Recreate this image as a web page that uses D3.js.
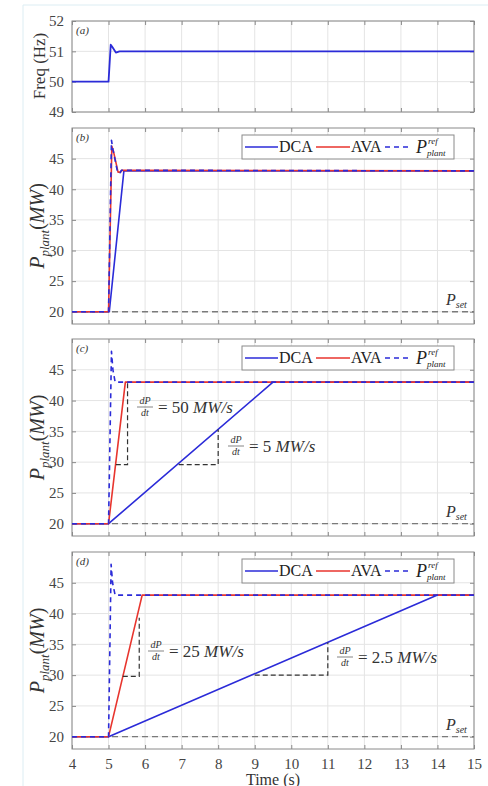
<!DOCTYPE html>
<html>
<head>
<meta charset="utf-8">
<script src="https://cdn.jsdelivr.net/npm/d3@7"></script>
<style>
  body { margin: 0; background: #fff; }
  svg text { font-family: "Liberation Serif", "DejaVu Serif", serif; }
</style>
</head>
<body>
<div id="chart"></div>
<script>
// time ticks
var timeTicks = [4, 5, 6, 7, 8, 9, 10, 11, 12, 13, 14, 15];

// (a) frequency
var freqT = [4, 5.0, 5.06, 5.1, 5.2, 5.3, 15];
var freqV = [50, 50, 51.22, 51.15, 50.96, 51, 51];
var freqTicks = [49, 50, 51, 52];

// (b)
var bRefT = [4, 5, 5.08, 5.12, 5.25, 5.32, 5.35, 15];
var bRefP = [20, 20, 48, 46.5, 42.7, 42.7, 43.1, 43];
var bAvaT = [4, 5, 5.09, 5.13, 5.26, 5.33, 5.36, 15];
var bAvaP = [20, 20, 47, 46.3, 42.8, 42.8, 43.1, 43];
var bDcaT = [4, 5.02, 5.42, 15];
var bDcaP = [20, 20, 43, 43];

// (c)
var cRefT = [4, 5, 5.08, 5.12, 5.18, 15];
var cRefP = [20, 20, 48, 45, 43, 43];
var cAvaT = [4, 5, 5.46, 15];
var cAvaP = [20, 20, 43, 43];
var cDcaT = [4, 5, 9.5, 15];
var cDcaP = [20, 20, 43, 43];
// slope triangles: [t1, t2, p1, p2]
var cTri = [[5.2, 5.52, 29.6, 43], [6.92, 8, 29.6, 35.3]];
var cRates = ["50", "5"];

// (d)
var dRefT = [4, 5, 5.07, 5.11, 5.18, 15];
var dRefP = [20, 20, 48, 45, 43, 43];
var dAvaT = [4, 5, 5.92, 15];
var dAvaP = [20, 20, 43, 43];
var dDcaT = [4, 5, 14, 15];
var dDcaP = [20, 20, 43, 43];
var dTri = [[5.39, 5.84, 29.8, 39.3], [9, 11, 30, 35.3]];
var dRates = ["25", "2.5"];

var pTicks = [20, 25, 30, 35, 40, 45];
var pSet = 20;

var blue = "#2b2bd8", red = "#e8352e", boxCol = "#8a8a8a", gridCol = "#e4e4e4", tickCol = "#444";
var serif = "'Liberation Serif', 'DejaVu Serif', serif";

var W = 488, H = 786;
var svg = d3.select("#chart").append("svg").attr("width", W).attr("height", H);

// faint outer frame
svg.append("line").attr("x1", 23).attr("x2", 23).attr("y1", 5).attr("y2", H).attr("stroke", "#dcedf3");
svg.append("line").attr("x1", 23).attr("x2", W).attr("y1", 5).attr("y2", 5).attr("stroke", "#dcedf3");

var x = d3.scaleLinear().domain([4, 15]).range([72, 474]);

function zip(ts, vs) { return ts.map(function(t, i) { return [t, vs[i]]; }); }

function panel(top, bottom, domain, yticks, letter, showXLabels) {
  var y = d3.scaleLinear().domain(domain).range([bottom, top]);
  var g = svg.append("g");
  // grid
  g.selectAll(".gx").data(timeTicks).enter().append("line")
    .attr("x1", function(d) { return x(d); }).attr("x2", function(d) { return x(d); })
    .attr("y1", top).attr("y2", bottom).attr("stroke", gridCol);
  g.selectAll(".gy").data(yticks).enter().append("line")
    .attr("x1", 72).attr("x2", 474)
    .attr("y1", function(d) { return y(d); }).attr("y2", function(d) { return y(d); })
    .attr("stroke", gridCol);
  // axes with inward ticks
  var fmt = function(d) { return d; };
  g.append("g").attr("transform", "translate(0," + bottom + ")")
    .call(d3.axisBottom(x).tickValues(timeTicks).tickSizeInner(-4).tickSizeOuter(0).tickPadding(9).tickFormat(showXLabels ? fmt : ""));
  g.append("g").attr("transform", "translate(0," + top + ")")
    .call(d3.axisTop(x).tickValues(timeTicks).tickSizeInner(-4).tickSizeOuter(0).tickFormat(""));
  g.append("g").attr("transform", "translate(72,0)")
    .call(d3.axisLeft(y).tickValues(yticks).tickSizeInner(-4).tickSizeOuter(0).tickPadding(8).tickFormat(fmt));
  g.append("g").attr("transform", "translate(474,0)")
    .call(d3.axisRight(y).tickValues(yticks).tickSizeInner(-4).tickSizeOuter(0).tickFormat(""));
  g.selectAll(".domain").remove();
  g.selectAll(".tick line").attr("stroke", boxCol);
  g.selectAll(".tick text").attr("fill", tickCol).style("font-size", "15px").style("font-family", serif);
  g.append("rect").attr("x", 72).attr("y", top).attr("width", 402).attr("height", bottom - top)
    .attr("fill", "none").attr("stroke", boxCol);
  g.append("text").attr("x", 76).attr("y", top + 13).attr("font-style", "italic")
    .style("font-size", "11px").attr("fill", "#333").text("(" + letter + ")");
  return { g: g, y: y, top: top, bottom: bottom };
}

function drawLine(p, ts, vs, color, dash, width) {
  var line = d3.line().x(function(d) { return x(d[0]); }).y(function(d) { return p.y(d[1]); });
  p.g.append("path").datum(zip(ts, vs)).attr("d", line)
    .attr("fill", "none").attr("stroke", color).attr("stroke-width", width || 1.6)
    .attr("stroke-dasharray", dash || null).attr("stroke-linejoin", "round");
}

function pLabel(p) {
  var cy = (p.top + p.bottom) / 2;
  var t = p.g.append("text").attr("transform", "translate(44," + cy + ") rotate(-90)")
    .attr("text-anchor", "middle").attr("fill", "#333").style("font-size", "20px");
  t.append("tspan").attr("font-style", "italic").text("P");
  t.append("tspan").attr("font-style", "italic").attr("dy", 5).style("font-size", "13px").text("plant");
  t.append("tspan").attr("dy", -5).text("(");
  t.append("tspan").attr("font-style", "italic").text("MW");
  t.append("tspan").text(")");
}

function pSetLine(p) {
  p.g.append("line").attr("x1", x(4)).attr("x2", x(15))
    .attr("y1", p.y(pSet)).attr("y2", p.y(pSet))
    .attr("stroke", "#7a7a7a").attr("stroke-width", 1.3).attr("stroke-dasharray", "6,4");
  var t = p.g.append("text").attr("x", 446).attr("y", p.y(pSet) - 7)
    .attr("fill", "#333").style("font-size", "16px").attr("font-style", "italic");
  t.append("tspan").text("P");
  t.append("tspan").attr("dy", 3).style("font-size", "10px").text("set");
}

function legend(p) {
  var lx = 242, ly = p.top + 7, lw = 212, lh = 24;
  var g = p.g.append("g");
  g.append("rect").attr("x", lx).attr("y", ly).attr("width", lw).attr("height", lh)
    .attr("fill", "#fff").attr("stroke", "#8a8a8a");
  var cy = ly + lh / 2;
  g.append("line").attr("x1", lx + 3).attr("x2", lx + 36).attr("y1", cy).attr("y2", cy).attr("stroke", blue).attr("stroke-width", 1.6);
  g.append("text").attr("x", lx + 37).attr("y", cy + 5).style("font-size", "16px").attr("fill", "#222").text("DCA");
  g.append("line").attr("x1", lx + 74).attr("x2", lx + 108).attr("y1", cy).attr("y2", cy).attr("stroke", red).attr("stroke-width", 1.6);
  g.append("text").attr("x", lx + 109).attr("y", cy + 5).style("font-size", "16px").attr("fill", "#222").text("AVA");
  g.append("line").attr("x1", lx + 143).attr("x2", lx + 170).attr("y1", cy).attr("y2", cy).attr("stroke", blue).attr("stroke-width", 1.6).attr("stroke-dasharray", "5,4");
  g.append("text").attr("x", lx + 174).attr("y", cy + 6).attr("fill", "#222").attr("font-style", "italic")
    .style("font-size", "18px").text("P");
  g.append("text").attr("x", lx + 186).attr("y", cy - 3).attr("fill", "#222").attr("font-style", "italic")
    .style("font-size", "9px").text("ref");
  g.append("text").attr("x", lx + 185).attr("y", cy + 9).attr("fill", "#222").attr("font-style", "italic")
    .style("font-size", "9px").text("plant");
}

function triangle(p, tri) {
  p.g.append("path")
    .attr("d", "M" + x(tri[0]) + "," + p.y(tri[2]) + "H" + x(tri[1]) + "V" + p.y(tri[3]))
    .attr("fill", "none").attr("stroke", "#333").attr("stroke-width", 1.2).attr("stroke-dasharray", "5,3");
}

function rateLabel(p, px, py, rate) {
  var g = p.g.append("g").attr("fill", "#333");
  g.append("text").attr("x", px + 8).attr("y", py - 3).attr("text-anchor", "middle")
    .attr("font-style", "italic").style("font-size", "10px").text("dP");
  g.append("line").attr("x1", px).attr("x2", px + 16).attr("y1", py).attr("y2", py).attr("stroke", "#333").attr("stroke-width", 0.6);
  g.append("text").attr("x", px + 8).attr("y", py + 9).attr("text-anchor", "middle")
    .attr("font-style", "italic").style("font-size", "10px").text("dt");
  var t = g.append("text").attr("x", px + 21).attr("y", py + 6).style("font-size", "17px");
  t.append("tspan").text("= " + rate + " ");
  t.append("tspan").attr("font-style", "italic").text("MW/s");
}

// (a)
var pa = panel(21, 112, [49, 52], freqTicks, "a", false);
drawLine(pa, freqT, freqV, blue, null, 1.8);
pa.g.append("text").attr("transform", "translate(45,66) rotate(-90)").attr("text-anchor", "middle")
  .attr("fill", "#333").style("font-size", "17px").text("Freq (Hz)");

// (b)
var pb = panel(128, 324, [18, 50], pTicks, "b", false);
pSetLine(pb);
drawLine(pb, bDcaT, bDcaP, blue);
drawLine(pb, bAvaT, bAvaP, red);
drawLine(pb, bRefT, bRefP, blue, "5,4");
legend(pb);
pLabel(pb);

// (c)
var pc = panel(339, 536, [18, 50], pTicks, "c", false);
pSetLine(pc);
drawLine(pc, cDcaT, cDcaP, blue);
drawLine(pc, cAvaT, cAvaP, red);
drawLine(pc, cRefT, cRefP, blue, "5,4");
cTri.forEach(function(t) { triangle(pc, t); });
rateLabel(pc, 137, 407, cRates[0]);
rateLabel(pc, 228, 446, cRates[1]);
legend(pc);
pLabel(pc);

// (d)
var pd = panel(552, 749, [18, 50], pTicks, "d", true);
pSetLine(pd);
drawLine(pd, dDcaT, dDcaP, blue);
drawLine(pd, dAvaT, dAvaP, red);
drawLine(pd, dRefT, dRefP, blue, "5,4");
dTri.forEach(function(t) { triangle(pd, t); });
rateLabel(pd, 148, 651, dRates[0]);
rateLabel(pd, 337, 657, dRates[1]);
legend(pd);
pLabel(pd);

svg.append("text").attr("x", 273).attr("y", 785).attr("text-anchor", "middle")
  .attr("fill", "#333").style("font-size", "16px").text("Time (s)");
</script>
</body>
</html>
